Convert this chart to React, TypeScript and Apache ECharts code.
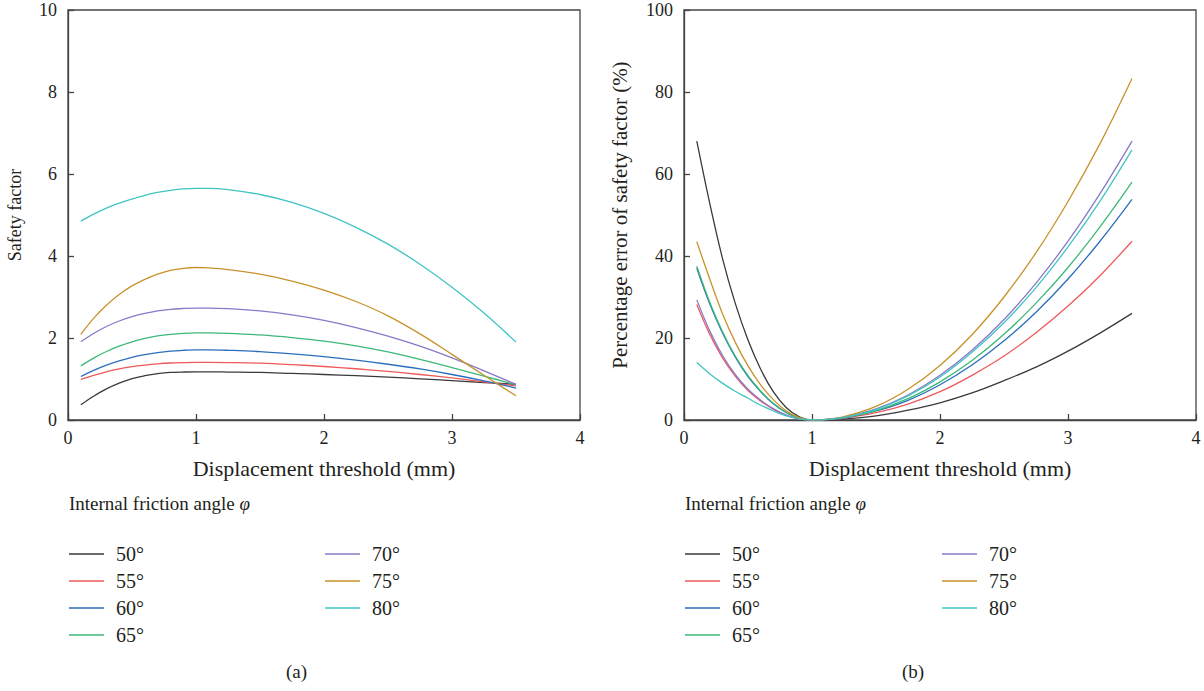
import React, { useEffect, useRef } from "react";
import * as echarts from "echarts";

const xs = [0.1, 0.2, 0.3, 0.4, 0.5, 0.6, 0.7, 0.8, 0.9, 1.0, 1.1, 1.25, 1.5, 1.75, 2.0, 2.25, 2.5, 2.75, 3.0, 3.25, 3.5];

const seriesNames = ["50°", "55°", "60°", "65°", "70°", "75°", "80°"];
const seriesColors = ["#3a3a3a", "#ee5a5a", "#2a6ebd", "#3cb878", "#8a78c8", "#c8922a", "#40c4c4"];

// (a) Safety factor
const sf50 = [0.37, 0.58, 0.76, 0.9, 1.01, 1.08, 1.13, 1.16, 1.17, 1.175, 1.175, 1.17, 1.16, 1.135, 1.11, 1.08, 1.045, 1.005, 0.96, 0.915, 0.87];
const sf55 = [0.99, 1.09, 1.175, 1.245, 1.3, 1.34, 1.37, 1.39, 1.4, 1.405, 1.405, 1.4, 1.385, 1.35, 1.305, 1.25, 1.185, 1.11, 1.025, 0.93, 0.83];
const sf60 = [1.06, 1.21, 1.34, 1.445, 1.53, 1.595, 1.645, 1.68, 1.7, 1.71, 1.71, 1.7, 1.67, 1.615, 1.545, 1.46, 1.36, 1.245, 1.11, 0.955, 0.78];
const sf65 = [1.32, 1.51, 1.67, 1.8, 1.905, 1.99, 2.05, 2.09, 2.115, 2.125, 2.125, 2.115, 2.075, 2.01, 1.925, 1.81, 1.66, 1.48, 1.28, 1.07, 0.86];
const sf70 = [1.91, 2.11, 2.28, 2.415, 2.52, 2.6, 2.66, 2.7, 2.72, 2.73, 2.73, 2.715, 2.66, 2.565, 2.43, 2.255, 2.045, 1.8, 1.515, 1.2, 0.87];
const sf75 = [2.09, 2.48, 2.8, 3.06, 3.27, 3.43, 3.56, 3.65, 3.7, 3.72, 3.71, 3.67, 3.56, 3.39, 3.17, 2.89, 2.54, 2.1, 1.6, 1.09, 0.59];
const sf80 = [4.85, 5.02, 5.17, 5.29, 5.39, 5.48, 5.55, 5.6, 5.635, 5.65, 5.65, 5.62, 5.5, 5.31, 5.04, 4.7, 4.29, 3.8, 3.24, 2.61, 1.9];

// (b) Percentage error of safety factor (%)
const pe50 = [68, 53, 39.5, 28.5, 19.5, 12.3, 6.8, 3.0, 0.8, 0, 0.05, 0.25, 1.0, 2.4, 4.2, 6.6, 9.6, 12.9, 16.8, 21.2, 26];
const pe55 = [28.2, 21.0, 15.2, 10.7, 7.2, 4.6, 2.6, 1.1, 0.3, 0, 0.07, 0.45, 1.8, 3.9, 6.9, 10.9, 15.6, 21.3, 27.8, 35.2, 43.6];
const pe60 = [37.0, 28.4, 21.3, 15.4, 10.6, 6.9, 3.9, 1.8, 0.5, 0, 0.1, 0.55, 2.2, 4.8, 8.6, 13.4, 19.3, 26.3, 34.4, 43.6, 53.8];
const pe65 = [37.5, 28.8, 21.6, 15.6, 10.8, 7.0, 4.0, 1.8, 0.5, 0, 0.1, 0.6, 2.3, 5.2, 9.3, 14.5, 20.9, 28.5, 37.2, 47.1, 58];
const pe70 = [29.3, 21.8, 15.8, 11.1, 7.5, 4.8, 2.7, 1.2, 0.3, 0, 0.1, 0.7, 2.7, 6.1, 10.9, 17.0, 24.5, 33.4, 43.6, 55.2, 68];
const pe75 = [43.5, 34.5, 26, 19, 13.2, 8.5, 4.9, 2.2, 0.6, 0, 0.13, 0.8, 3.3, 7.5, 13.3, 20.8, 30.0, 40.8, 53.3, 67.4, 83.3];
const pe80 = [14.0, 11.3, 9.0, 7.0, 5.3, 3.6, 2.2, 1.0, 0.25, 0, 0.1, 0.65, 2.6, 5.9, 10.5, 16.5, 23.7, 32.3, 42.2, 53.4, 65.9];

const sfData = [sf50, sf55, sf60, sf65, sf70, sf75, sf80];
const peData = [pe50, pe55, pe60, pe65, pe70, pe75, pe80];

const xTicks = [0, 1, 2, 3, 4];
const sfTicks = [0, 2, 4, 6, 8, 10];
const peTicks = [0, 20, 40, 60, 80, 100];

const FONT = "'Liberation Serif', 'DejaVu Serif', serif";
const INK = "#231f20";
const AXIS = "#444";

export default function App() {
  const ref = useRef<HTMLDivElement>(null);

  useEffect(() => {
    if (!ref.current) return;
    const chart = echarts.init(ref.current, undefined, { renderer: "svg" });

    const makeX = (gridIndex: number) => ({
      type: "value",
      gridIndex,
      min: xTicks[0],
      max: xTicks[xTicks.length - 1],
      interval: 1,
      name: "Displacement threshold (mm)",
      nameLocation: "middle",
      nameGap: 37,
      nameTextStyle: { fontFamily: FONT, fontSize: 22, color: INK },
      axisLine: { show: true, lineStyle: { color: AXIS, width: 1.3 } },
      axisTick: { show: true, inside: true, length: 6, lineStyle: { color: AXIS, width: 1.3 } },
      axisLabel: { fontFamily: FONT, fontSize: 18, color: INK, margin: 9 },
      splitLine: { show: false },
    });

    const makeY = (gridIndex: number, ticks: number[], name: string, nameGap: number, nameSize: number) => ({
      type: "value",
      gridIndex,
      min: ticks[0],
      max: ticks[ticks.length - 1],
      interval: ticks[1] - ticks[0],
      name,
      nameLocation: "middle",
      nameGap,
      nameTextStyle: { fontFamily: FONT, fontSize: nameSize, color: INK },
      axisLine: { show: true, lineStyle: { color: AXIS, width: 1.3 } },
      axisTick: { show: true, inside: true, length: 6, lineStyle: { color: AXIS, width: 1.3 } },
      axisLabel: { fontFamily: FONT, fontSize: 18, color: INK, margin: 11 },
      splitLine: { show: false },
    });

    const series: any[] = [];
    seriesNames.forEach((name, i) => {
      series.push({
        type: "line",
        name,
        xAxisIndex: 0,
        yAxisIndex: 0,
        data: xs.map((x, j) => [x, sfData[i][j]]),
        smooth: 0.35,
        showSymbol: false,
        lineStyle: { color: seriesColors[i], width: 1.3 },
        itemStyle: { color: seriesColors[i] },
      });
    });
    seriesNames.forEach((name, i) => {
      series.push({
        type: "line",
        name,
        xAxisIndex: 1,
        yAxisIndex: 1,
        data: xs.map((x, j) => [x, peData[i][j]]),
        smooth: 0.35,
        showSymbol: false,
        lineStyle: { color: seriesColors[i], width: 1.3 },
        itemStyle: { color: seriesColors[i] },
      });
    });

    const legendBase = {
      orient: "vertical",
      icon: "rect",
      padding: 0,
      itemWidth: 35,
      itemHeight: 1.6,
      itemGap: 7,
      selectedMode: false,
      textStyle: { fontFamily: FONT, fontSize: 20, color: INK, lineHeight: 18, padding: [0, 0, 0, 7] },
    };

    const titleStyle = {
      text: "Internal friction angle {i|φ}",
      fontFamily: FONT,
      fontSize: 19,
      fill: INK,
      rich: { i: { fontFamily: FONT, fontSize: 19, fontStyle: "italic", fill: INK } },
    };

    const option: any = {
      animation: false,
      backgroundColor: "#ffffff",
      grid: [
        { left: 68, right: 1204 - 580, top: 10, height: 410, show: true, borderColor: AXIS, borderWidth: 1.3, containLabel: false },
        { left: 684, right: 1204 - 1196, top: 10, height: 410, show: true, borderColor: AXIS, borderWidth: 1.3, containLabel: false },
      ],
      xAxis: [makeX(0), makeX(1)],
      yAxis: [
        makeY(0, sfTicks, "Safety factor", 44, 18),
        makeY(1, peTicks, "Percentage error of safety factor (%)", 54, 21),
      ],
      legend: [
        { ...legendBase, left: 69, top: 544, data: seriesNames.slice(0, 4) },
        { ...legendBase, left: 325, top: 544, data: seriesNames.slice(4) },
        { ...legendBase, left: 685, top: 544, data: seriesNames.slice(0, 4) },
        { ...legendBase, left: 942, top: 544, data: seriesNames.slice(4) },
      ],
      graphic: [
        { type: "text", left: 69, top: 494, style: titleStyle },
        { type: "text", left: 685, top: 494, style: titleStyle },
        { type: "text", left: 286, top: 662, style: { text: "(a)", fontFamily: FONT, fontSize: 19, fill: INK } },
        { type: "text", left: 902, top: 662, style: { text: "(b)", fontFamily: FONT, fontSize: 19, fill: INK } },
      ],
      series,
    };

    chart.setOption(option);
    return () => chart.dispose();
  }, []);

  return <div ref={ref} style={{ width: 1204, height: 691, position: "absolute", left: 0, top: 0 }} />;
}
